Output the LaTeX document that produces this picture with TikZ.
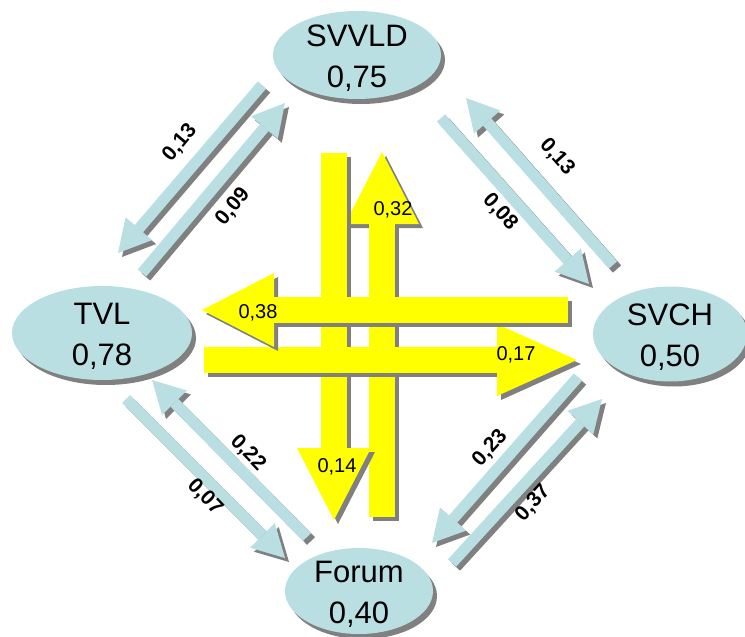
\documentclass[tikz,border=0pt]{standalone}
\usepackage{fontspec}
\setmainfont{Liberation Sans}
\usetikzlibrary{arrows.meta,shapes.geometric}
\definecolor{lblue}{RGB}{186,223,227}
\definecolor{shgray}{RGB}{128,128,128}
\definecolor{yel}{RGB}{255,255,0}
\begin{document}
\begin{tikzpicture}[x=1pt,y=-1pt,
  ellbox/.style={ellipse, fill=lblue, inner sep=0pt,
    preaction={fill=shgray, transform canvas={xshift=4pt,yshift=-5pt}}},
  elltext/.style={align=center, inner sep=0pt, yshift=-3pt, font=\fontsize{31}{41}\selectfont},
  barrow/.style={draw=lblue, line width=11pt, -{Triangle[length=32pt,width=35pt,line width=0pt]}},
  barrowsh/.style={barrow, draw=shgray, transform canvas={xshift=4pt,yshift=-4pt}},
  yarrow/.style={draw=yel, line width=26pt, -{Triangle[length=72pt,width=74pt,line width=0pt]}},
  yarrowsh/.style={yarrow, draw=shgray, transform canvas={xshift=4pt,yshift=-4pt}},
  blab/.style={font=\fontsize{21}{21}\selectfont\bfseries, inner sep=0pt},
  ylab/.style={font=\fontsize{20}{20}\selectfont, inner sep=0pt},
]
\useasboundingbox (0,0) rectangle (745,637);

% ellipses
\node[ellbox, minimum width=168pt, minimum height=88pt] (svvld) at (357,55) {};
\node[ellbox, minimum width=180pt, minimum height=94pt] (tvl) at (102,333) {};
\node[ellbox, minimum width=154pt, minimum height=95pt] (svch) at (670,334) {};
\node[ellbox, minimum width=148pt, minimum height=86pt] (forum) at (359,591) {};
\node[elltext] (svvldt) at (svvld.center) {SVVLD\\0,75};
\node[elltext] (tvlt) at (tvl.center) {TVL\\0,78};
\node[elltext] (svcht) at (svch.center) {SVCH\\0,50};
\node[elltext] (forumt) at (forum.center) {Forum\\0,40};

% blue arrow endpoints
\coordinate (a1) at (262,85);  \coordinate (a2) at (118,253);
\coordinate (b1) at (142,273); \coordinate (b2) at (285,103);
\coordinate (c1) at (613,265); \coordinate (c2) at (466,98);
\coordinate (d1) at (441,118); \coordinate (d2) at (589,284);
\coordinate (e1) at (126,399); \coordinate (e2) at (285,558);
\coordinate (f1) at (307,537); \coordinate (f2) at (152,380);
\coordinate (g1) at (578,377); \coordinate (g2) at (432,543);
\coordinate (h1) at (452,563); \coordinate (h2) at (602,399);

\foreach \p in {a,b,c,d,e,f,g,h}{
  \draw[barrowsh] (\p1) -- (\p2);
  \draw[barrow] (\p1) -- (\p2);
}

\node[blab, rotate=50] (la) at (180,143) {0,13};
\node[blab, rotate=50] (lb) at (233,207) {0,09};
\node[blab, rotate=-48] (lc) at (557,157) {0,13};
\node[blab, rotate=-48] (ld) at (500,212) {0,08};
\node[blab, rotate=-46] (le) at (205,497) {0,07};
\node[blab, rotate=-46] (lf) at (248,453) {0,22};
\node[blab, rotate=48] (lg) at (490,448) {0,23};
\node[blab, rotate=48] (lh) at (533,503) {0,37};

% yellow arrows
\coordinate (u1) at (382,517); \coordinate (u2) at (382,152);
\coordinate (w1) at (334,153); \coordinate (w2) at (334,520);
\coordinate (r1) at (204,360); \coordinate (r2) at (577,360);
\coordinate (l1) at (568,310); \coordinate (l2) at (202,310);

\draw[yarrowsh] (u1) -- (u2); \draw[yarrow] (u1) -- (u2);
\draw[yarrowsh] (w1) -- (w2); \draw[yarrow] (w1) -- (w2);
\draw[yarrowsh, -{Triangle[length=80pt,width=72pt,line width=0pt]}] (r1) -- (r2);
\draw[yarrow, -{Triangle[length=80pt,width=72pt,line width=0pt]}] (r1) -- (r2);
\draw[yarrowsh] (l1) -- (l2); \draw[yarrow] (l1) -- (l2);

\node[ylab] (y32) at (393,210) {0,32};
\node[ylab] (y14) at (337,467) {0,14};
\node[ylab] (y38) at (258,313) {0,38};
\node[ylab] (y17) at (516,355) {0,17};
\end{tikzpicture}
\end{document}
